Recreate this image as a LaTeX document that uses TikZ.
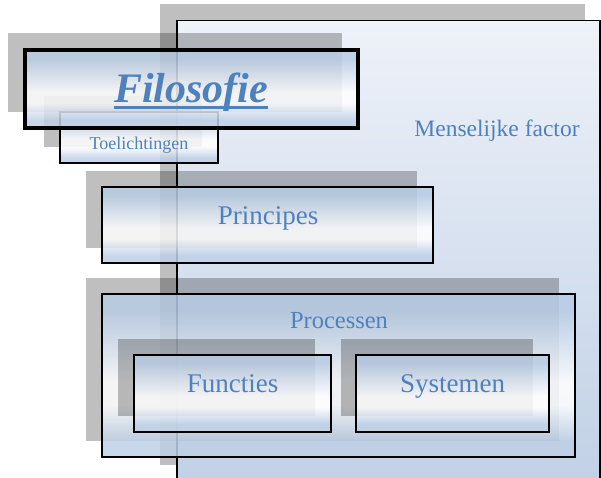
\documentclass[tikz,border=0pt]{standalone}
\usepackage{fontspec}
\setmainfont{Liberation Serif}
\definecolor{btop}{HTML}{B8CCE4}
\definecolor{bbot}{HTML}{BFD0E6}
\definecolor{bupper}{HTML}{D8E3F1}
\definecolor{bmid}{HTML}{FFFFFF}
\definecolor{txtblue}{HTML}{4F81BD}
\definecolor{bigtop}{HTML}{EEF2F9}
\definecolor{bigbot}{HTML}{C0D0E6}
\pgfdeclareverticalshading{boxsh}{100bp}{color(0bp)=(bbot); color(25bp)=(bbot); color(30bp)=(bbot); color(41bp)=(bmid); color(48bp)=(bmid); color(60bp)=(bupper); color(70bp)=(btop); color(75bp)=(btop); color(100bp)=(btop)}
\tikzset{
  shadowbox/.style={fill=black, fill opacity=0.25, draw=none, inner sep=0pt, outer sep=0pt, anchor=north west},
  gbox/.style={draw=black, line width=2pt, shading=boxsh, fill opacity=0.85, inner sep=0pt, outer sep=0pt, anchor=north west},
  lbl/.style={text=txtblue, inner sep=0pt, anchor=base},
}
\begin{document}
\begin{tikzpicture}[x=1pt,y=-1pt]
\useasboundingbox (0,0) rectangle (601,478);
\clip (0,0) rectangle (601,478);
% big background box
\node[shadowbox, minimum width=425pt, minimum height=461pt] (bigsh) at (160,4) {};
\node[draw=black, line width=1.5pt, top color=bigtop, bottom color=bigbot, inner sep=0pt, anchor=north west, minimum width=423pt, minimum height=470pt] (big) at (176,20) {};
\node[lbl, font=\fontsize{23.5}{28}\selectfont] (mf) at (497,137) {Menselijke factor};
% Toelichtingen
\node[shadowbox, minimum width=158pt, minimum height=51pt] (toesh) at (44,96) {};
\node[gbox, line width=2.5pt, minimum width=158pt, minimum height=51pt] (toe) at (60,112) {};
% Filosofie
\node[shadowbox, minimum width=334pt, minimum height=79pt] (filsh) at (8,33) {};
\node[gbox, line width=4pt, minimum width=333pt, minimum height=78pt] (fil) at (25,50) {};
\node[lbl, font=\fontsize{18}{22}\selectfont] (toet) at (139,150) {Toelichtingen};
\node[lbl, font=\bfseries\itshape\fontsize{42}{48}\selectfont] (filt) at (191,103) {Filosofie};
\draw[txtblue, line width=2.8pt] ([yshift=-4.5pt]filt.base west) -- ([yshift=-4.5pt]filt.base east);
% Principes
\node[shadowbox, minimum width=331pt, minimum height=77pt] (prish) at (86,171) {};
\node[gbox, minimum width=331pt, minimum height=76pt] (pri) at (102,187) {};
\node[lbl, font=\fontsize{27}{32}\selectfont] (prit) at (268,224) {Principes};
% Processen
\node[shadowbox, minimum width=473pt, minimum height=163pt] (prosh) at (86,278) {};
\node[gbox, minimum width=473pt, minimum height=163pt] (pro) at (102,294) {};
\node[lbl, font=\fontsize{24.5}{29}\selectfont] (prot) at (339,328) {Processen};
% Functies
\node[shadowbox, minimum width=197pt, minimum height=77pt] (funsh) at (118,339) {};
\node[gbox, minimum width=197pt, minimum height=77pt] (fun) at (134,355) {};
\node[lbl, font=\fontsize{27}{32}\selectfont] (funt) at (232.5,392) {Functies};
% Systemen
\node[shadowbox, minimum width=192pt, minimum height=77pt] (syssh) at (341,339) {};
\node[gbox, minimum width=193pt, minimum height=77pt] (sys) at (356,355) {};
\node[lbl, font=\fontsize{27}{32}\selectfont] (syst) at (452.5,392) {Systemen};
\end{tikzpicture}
\end{document}
